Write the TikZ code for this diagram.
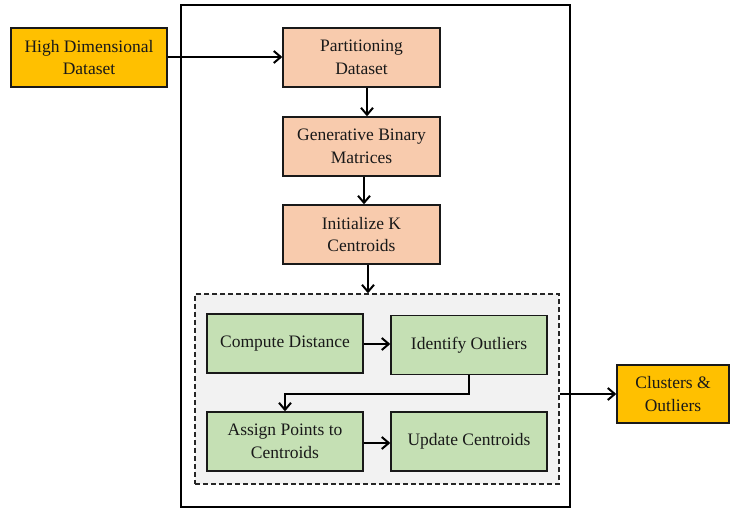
\documentclass[tikz,border=0pt]{standalone}
\usepackage{fontspec}
\setmainfont{Liberation Serif}
\usetikzlibrary{arrows.meta,calc}
\definecolor{gold}{HTML}{FFC000}
\definecolor{peach}{HTML}{F8CBAD}
\definecolor{sage}{HTML}{C5E0B4}
\definecolor{lgray}{HTML}{F2F2F2}
\tikzset{
  base/.style={draw=black!90, line width=1.4pt, align=center, inner sep=0pt,
    font=\fontsize{17.5}{22.5}\selectfont, text=black!90},
  inbox/.style={base, fill=gold, minimum width=156pt, minimum height=59pt},
  procbox/.style={base, fill=peach, minimum width=157pt, minimum height=59pt},
  subbox/.style={base, fill=sage, minimum width=156pt, minimum height=59pt},
  outbox/.style={base, fill=gold, minimum width=112pt, minimum height=58pt},
  arr/.style={line width=2pt, -{Straight Barb[length=7pt,width=12pt,line width=2pt]}},
}
\begin{document}
\begin{tikzpicture}[x=1pt,y=-1pt]
\useasboundingbox (0,0) rectangle (730,510);
\node[draw=black, line width=1.3pt, minimum width=389pt, minimum height=502pt, inner sep=0pt] (frame) at (375.5,256) {};
\node[draw=black!85, dash pattern=on 5pt off 3pt, line width=1.4pt, fill=lgray, minimum width=364pt, minimum height=190pt, inner sep=0pt] (grp) at (377,389) {};
\node[inbox] (hd) at (89,57.5) {High Dimensional\\Dataset};
\node[procbox] (part) at (361.5,57.5) {Partitioning\\Dataset};
\node[procbox] (gen) at (361.5,146.5) {Generative Binary\\Matrices};
\node[procbox] (init) at (361.5,234.5) {Initialize K\\Centroids};
\node[subbox] (cd) at (285,343.5) {Compute Distance};
\node[subbox] (io) at (469,345) {Identify Outliers};
\node[subbox] (ap) at (285,441.5) {Assign Points to\\Centroids};
\node[subbox] (uc) at (469,441.5) {Update Centroids};
\node[outbox] (out) at (673,394) {Clusters \&\\Outliers};
\coordinate (bend) at (469,394);
\draw[arr] (hd.east |- 0,57) -- (part.west |- 0,57);
\draw[arr] (part.south -| 367,0) -- (gen.north -| 367,0);
\draw[arr] (gen.south -| 364,0) -- (init.north -| 364,0);
\draw[arr] (init.south -| 368,0) -- (grp.north -| 368,0);
\draw[arr] (cd.east |- 0,344) -- (io.west |- 0,344);
\draw[arr] (io.south) -- (bend) -| (ap.north);
\draw[arr] (ap.east |- 0,443) -- (uc.west |- 0,443);
\draw[arr] (grp.east |- out.west) -- (out.west);
\end{tikzpicture}
\end{document}
